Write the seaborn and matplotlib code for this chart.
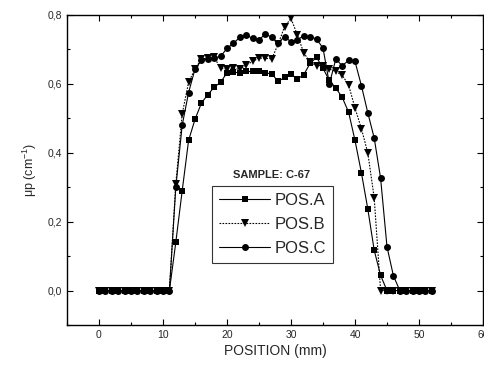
import matplotlib
matplotlib.use("Agg")
import matplotlib.pyplot as plt
import seaborn as sns
import pandas as pd
from matplotlib.ticker import MultipleLocator, FixedLocator

# ---- data ----
position = [0, 1, 2, 3, 4, 5, 6, 7, 8, 9, 10, 11, 12, 13, 14, 15, 16, 17, 18, 19,
            20, 21, 22, 23, 24, 25, 26, 27, 28, 29, 30, 31, 32, 33, 34, 35, 36, 37,
            38, 39, 40, 41, 42, 43, 44, 45, 46, 47, 48, 49, 50, 51, 52]
pos_a = [0, 0, 0, 0, 0, 0, 0, 0, 0, 0, 0, 0, 0.14, 0.29, 0.436, 0.497, 0.544, 0.569, 0.59, 0.605,
         0.632, 0.634, 0.632, 0.636, 0.636, 0.636, 0.632, 0.629, 0.607, 0.619, 0.628, 0.614, 0.627,
         0.66, 0.677, 0.645, 0.61, 0.588, 0.561, 0.518, 0.436, 0.342, 0.237, 0.117, 0.044,
         0, 0, 0, 0, 0, 0, 0, 0]
pos_b = [0, 0, 0, 0, 0, 0, 0, 0, 0, 0, 0, 0, 0.31, 0.513, 0.605, 0.643, 0.672, 0.675, 0.677, 0.645,
         0.643, 0.645, 0.642, 0.655, 0.665, 0.675, 0.674, 0.673, 0.716, 0.766, 0.79, 0.742, 0.69,
         0.663, 0.653, 0.653, 0.643, 0.636, 0.625, 0.597, 0.53, 0.47, 0.40, 0.269, 0,
         0, 0, 0, 0, 0, 0, 0, 0]
pos_c = [0, 0, 0, 0, 0, 0, 0, 0, 0, 0, 0, 0, 0.30, 0.48, 0.575, 0.643, 0.668, 0.672, 0.675, 0.68,
         0.703, 0.718, 0.735, 0.742, 0.732, 0.728, 0.745, 0.735, 0.72, 0.737, 0.722, 0.728, 0.74,
         0.737, 0.73, 0.704, 0.60, 0.672, 0.653, 0.668, 0.665, 0.595, 0.516, 0.443, 0.326,
         0.127, 0.043, 0, 0, 0, 0, 0, 0]
series_names = ["POS.A", "POS.B", "POS.C"]
x_ticks = [0, 10, 20, 30, 40, 50, 60]
x_tick_labels = ["0", "10", "20", "30", "40", "50", "60"]
y_ticks = [0.0, 0.2, 0.4, 0.6, 0.8]
y_tick_labels = ["0,0", "0,2", "0,4", "0,6", "0,8"]
sample_label = "SAMPLE: C-67"

df = pd.concat([
    pd.DataFrame({"x": position, "y": vals, "series": name})
    for name, vals in zip(series_names, [pos_a, pos_b, pos_c])
], ignore_index=True)

sns.set_style("ticks")
plt.rcParams["font.family"] = ["Liberation Sans", "DejaVu Sans"]
plt.rcParams["mathtext.fontset"] = "custom"
plt.rcParams["mathtext.rm"] = "Liberation Sans"

fig = plt.figure(figsize=(4.84, 3.70), dpi=100)
ax = fig.add_axes([67 / 484, 45 / 370, 416 / 484, 310 / 370])

markers = {"POS.A": "s", "POS.B": "v", "POS.C": "o"}
sizes = {"POS.A": 4.6, "POS.B": 5.4, "POS.C": 5.0}
zorders = {"POS.A": 3, "POS.B": 5, "POS.C": 4}
styles = {"POS.A": "-", "POS.B": (0, (1.5, 1.2)), "POS.C": "-"}
for name in series_names:
    sub = df[df["series"] == name]
    sns.lineplot(data=sub, x="x", y="y", ax=ax, color="black", linewidth=0.8,
                 marker=markers[name], markersize=sizes[name], markeredgewidth=0,
                 label=name, zorder=zorders[name], linestyle=styles[name])

ax.set_xlim(-5, 60)
ax.set_ylim(-0.1, 0.8)
ax.xaxis.set_major_locator(FixedLocator(x_ticks))
ax.set_xticklabels(x_tick_labels)
ax.xaxis.set_minor_locator(MultipleLocator(5))
ax.yaxis.set_major_locator(FixedLocator(y_ticks))
ax.set_yticklabels(y_tick_labels)
ax.yaxis.set_minor_locator(MultipleLocator(0.1))
ax.tick_params(which="both", direction="in", top=True, right=True, labelsize=7.5,
               color="black", width=0.8)
ax.tick_params(which="major", length=4)
ax.tick_params(which="minor", length=2.5)
for s in ax.spines.values():
    s.set_color("black")
    s.set_linewidth(1.0)

ax.set_xlabel("POSITION (mm)", fontsize=10, labelpad=3)
ax.set_ylabel(r"μp (cm$^{\mathregular{-1}}$)", fontsize=9, labelpad=6)

leg = ax.legend(loc="upper left", bbox_to_anchor=(0.3486, 0.448), fontsize=12,
                frameon=True, fancybox=False, handlelength=3.1, handletextpad=0.25,
                labelspacing=0.55, borderpad=0.4, borderaxespad=0)
leg.get_frame().set_edgecolor("black")
leg.get_frame().set_linewidth(0.8)
ax.text(0.399, 0.484, sample_label, transform=ax.transAxes, fontsize=8,
        ha="left", va="center", fontweight="bold")

fig.savefig("out.png", dpi=100)
